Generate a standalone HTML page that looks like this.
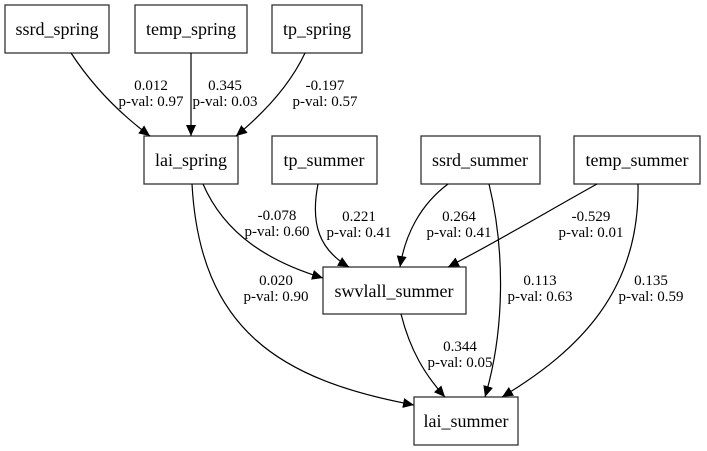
<!DOCTYPE html>
<html><head><meta charset="utf-8"><style>
html,body{margin:0;padding:0;background:#fff;}
svg{display:block;}
text{font-family:"Liberation Serif",serif;fill:#000;}
.n{font-size:18px;text-anchor:middle;}
.l{font-size:15px;text-anchor:middle;}
rect{fill:#fff;stroke:#333;stroke-width:1.3;}
path.e{fill:none;stroke:#000;stroke-width:1.2;}
</style></head><body>
<svg width="707" height="451" viewBox="0 0 707 451" xmlns="http://www.w3.org/2000/svg">
<defs><marker id="a" markerUnits="userSpaceOnUse" markerWidth="12" markerHeight="10" refX="11" refY="5" orient="auto"><path d="M0,0 L11,5 L0,10 z" fill="#000"/></marker></defs>
<rect x="5" y="5" width="104" height="48"/><text class="n" x="57" y="35">ssrd_spring</text>
<rect x="135" y="5" width="112" height="48"/><text class="n" x="191" y="35">temp_spring</text>
<rect x="272" y="5" width="90" height="48"/><text class="n" x="317" y="35">tp_spring</text>
<rect x="144" y="136" width="94" height="48"/><text class="n" x="191" y="166">lai_spring</text>
<rect x="272" y="136" width="105" height="48"/><text class="n" x="324" y="166">tp_summer</text>
<rect x="421" y="136" width="119" height="48"/><text class="n" x="480" y="166">ssrd_summer</text>
<rect x="574" y="136" width="126" height="48"/><text class="n" x="637" y="166">temp_summer</text>
<rect x="323" y="267" width="143" height="47"/><text class="n" x="394" y="297">swvlall_summer</text>
<rect x="414" y="397" width="104" height="48"/><text class="n" x="466" y="427">lai_summer</text>

<path class="e" marker-end="url(#a)" d="M71,53 C90,82 115,110 150,136"/>
<path class="e" marker-end="url(#a)" d="M191,53 L191,136"/>
<path class="e" marker-end="url(#a)" d="M305,53 C290,85 265,112 236,136"/>
<path class="e" marker-end="url(#a)" d="M192,184 C200,330 280,380 414,405"/>
<path class="e" marker-end="url(#a)" d="M203,184 C225,235 270,262 323,278"/>
<path class="e" marker-end="url(#a)" d="M318,184 C310,225 320,250 349,267"/>
<path class="e" marker-end="url(#a)" d="M448,184 C420,205 405,235 400,267"/>
<path class="e" marker-end="url(#a)" d="M597,184 C550,210 500,240 448,267"/>
<path class="e" marker-end="url(#a)" d="M489,184 C505,250 505,330 485,397"/>
<path class="e" marker-end="url(#a)" d="M638,184 C640,290 580,350 502,397"/>
<path class="e" marker-end="url(#a)" d="M401,314 C410,350 425,375 445,397"/>

<text class="l" x="151" y="90">0.012</text><text class="l" x="151" y="106">p-val: 0.97</text>
<text class="l" x="225" y="90">0.345</text><text class="l" x="225" y="106">p-val: 0.03</text>
<text class="l" x="325" y="90">-0.197</text><text class="l" x="325" y="106">p-val: 0.57</text>
<text class="l" x="277" y="220">-0.078</text><text class="l" x="277" y="236">p-val: 0.60</text>
<text class="l" x="276" y="285">0.020</text><text class="l" x="276" y="301">p-val: 0.90</text>
<text class="l" x="359" y="221">0.221</text><text class="l" x="359" y="237">p-val: 0.41</text>
<text class="l" x="459" y="221">0.264</text><text class="l" x="459" y="237">p-val: 0.41</text>
<text class="l" x="591" y="221">-0.529</text><text class="l" x="591" y="237">p-val: 0.01</text>
<text class="l" x="540" y="285">0.113</text><text class="l" x="540" y="301">p-val: 0.63</text>
<text class="l" x="651" y="285">0.135</text><text class="l" x="651" y="301">p-val: 0.59</text>
<text class="l" x="460" y="351">0.344</text><text class="l" x="460" y="367">p-val: 0.05</text>
</svg>
</body></html>
